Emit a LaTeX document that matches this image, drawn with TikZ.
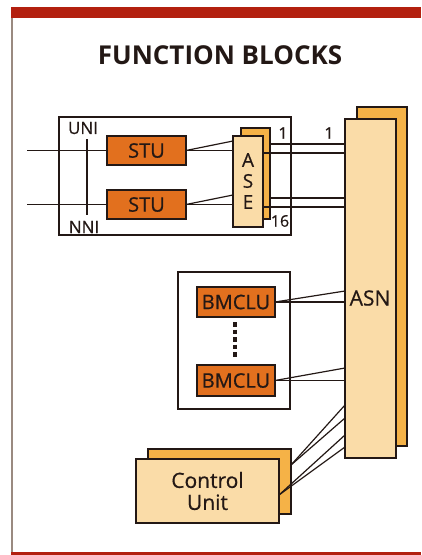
\documentclass[tikz,border=0pt]{standalone}
\usepackage{fontspec}
\setmainfont{Open Sans}
\newfontfamily\medfont{Open Sans}[FakeBold=0.6]
\usetikzlibrary{calc}
\definecolor{barred}{HTML}{B3200F}
\definecolor{stuor}{HTML}{E2701E}
\definecolor{peach}{HTML}{FADCA8}
\definecolor{gold}{HTML}{F5B247}
\definecolor{ink}{HTML}{231815}
\definecolor{framecol}{HTML}{9A8A80}
\tikzset{
  box/.style={draw=ink, line width=1.3pt, inner sep=0pt, outer sep=0pt, rectangle},
  orangebox/.style={box, fill=stuor, text=ink, font=\medfont\fontsize{20}{20}\selectfont},
  peachbox/.style={box, fill=peach},
  goldbox/.style={box, fill=gold},
  groupbox/.style={box, fill=white},
  wire/.style={draw=ink, line width=1.2pt},
  lbl/.style={inner sep=0pt, text=ink},
}
\begin{document}
\begin{tikzpicture}[x=1pt,y=-1pt]
\useasboundingbox (0,0) rectangle (421,555);
% frame
\fill[barred] (11,7) rectangle (421,18);
\fill[barred] (11,552) rectangle (421,555);
\draw[framecol, line width=1.2pt] (12,18) -- (12,552);
\node[lbl, font=\fontsize{26}{26}\selectfont\bfseries] (title) at (220,55) {FUNCTION BLOCKS};

% ASN
\node[goldbox, minimum width=50pt, minimum height=339pt] (asnb) at (382,276.5) {};
\node[peachbox, minimum width=51pt, minimum height=339pt] (asnf) at (370.5,288.5) {};
\node[lbl, font=\medfont\fontsize{21}{21}\selectfont] (asnlbl) at (370,298) {ASN};

% group 1
\node[groupbox, minimum width=232pt, minimum height=118pt] (grp1) at (175,176) {};
\node[lbl, font=\medfont\fontsize{17}{17}\selectfont] (uni) at (83,128) {UNI};
\node[lbl, font=\medfont\fontsize{17}{17}\selectfont] (nni) at (84,227) {NNI};
\coordinate (vtop) at (87,139);
\coordinate (vbot) at (87,215);
\draw[wire] (vtop) -- (vbot);
\node[orangebox, minimum width=79pt, minimum height=29pt] (stu1) at (146.5,150.5) {STU};
\node[orangebox, minimum width=79pt, minimum height=29pt] (stu2) at (146.5,204.5) {STU};
\coordinate (in1) at (27,150.5);
\coordinate (in2) at (27,204.5);
\draw[wire] (in1) -- (stu1.west);
\draw[wire] (in2) -- (stu2.west);
\node[goldbox, minimum width=29pt, minimum height=91pt] (aseb) at (255.5,173.5) {};
\node[peachbox, minimum width=30pt, minimum height=91pt] (asef) at (248,181.5) {};
\node[lbl, font=\medfont\fontsize{19}{19}\selectfont] (aseA) at (248,160) {A};
\node[lbl, font=\medfont\fontsize{19}{19}\selectfont] (aseS) at (248,181) {S};
\node[lbl, font=\medfont\fontsize{19}{19}\selectfont] (aseE) at (248,202) {E};
\draw[wire] (stu1.east) -- (asef.west |- 0,141);
\draw[wire] (stu1.east) -- (asef.west |- stu1.east);
\draw[wire] (stu2.east) -- (asef.west |- 0,195);
\draw[wire] (stu2.east) -- (asef.west |- stu2.east);
\node[lbl, font=\medfont\fontsize{16}{16}\selectfont] (one1) at (283,133) {1};
\node[lbl, font=\medfont\fontsize{16}{16}\selectfont] (sixteen) at (280,221) {16};
\node[lbl, font=\medfont\fontsize{16}{16}\selectfont] (one2) at (329,133) {1};
\draw[wire] (aseb.east |- 0,144) -- (asnf.west |- 0,144);
\draw[wire] (asef.east |- 0,153) -- (asnf.west |- 0,153);
\draw[wire] (aseb.east |- 0,198) -- (asnf.west |- 0,198);
\draw[wire] (asef.east |- 0,207) -- (asnf.west |- 0,207);

% BMCLU group
\node[groupbox, minimum width=112pt, minimum height=137pt] (bgrp) at (234,340.5) {};
\node[orangebox, minimum width=78pt, minimum height=30pt] (bm1) at (236,302) {BMCLU};
\node[orangebox, minimum width=78pt, minimum height=31pt] (bm2) at (236,380.5) {BMCLU};
\coordinate (dtop) at (235,322);
\coordinate (dbot) at (235,356.5);
\draw[ink, line width=3.5pt, dash pattern=on 4.5pt off 3pt] (dtop) -- (dbot);
\draw[wire] (bm1.east) -- (asnf.west |- 0,291);
\draw[wire] (bm1.east) -- (asnf.west |- bm1.east);
\draw[wire] (bm2.east) -- (asnf.west |- 0,368);
\draw[wire] (bm2.east) -- (asnf.west |- bm2.east);

% Control unit
\node[goldbox, minimum width=143pt, minimum height=65pt] (cub) at (219.5,481.5) {};
\node[peachbox, minimum width=143pt, minimum height=64pt, align=center,
      font=\medfont\fontsize{21}{22}\selectfont, text=ink] (cuf) at (207.5,491) {Control\\Unit};
\coordinate (cu1) at (291,465);
\coordinate (cu2) at (279,495);
\draw[wire] (cu1) -- (asnf.west |- 0,405);
\draw[wire] (cu1) -- (asnf.west |- 0,418);
\draw[wire] (cu2) -- (asnf.west |- 0,435);
\draw[wire] (cu2) -- (asnf.west |- 0,447);
\end{tikzpicture}
\end{document}
